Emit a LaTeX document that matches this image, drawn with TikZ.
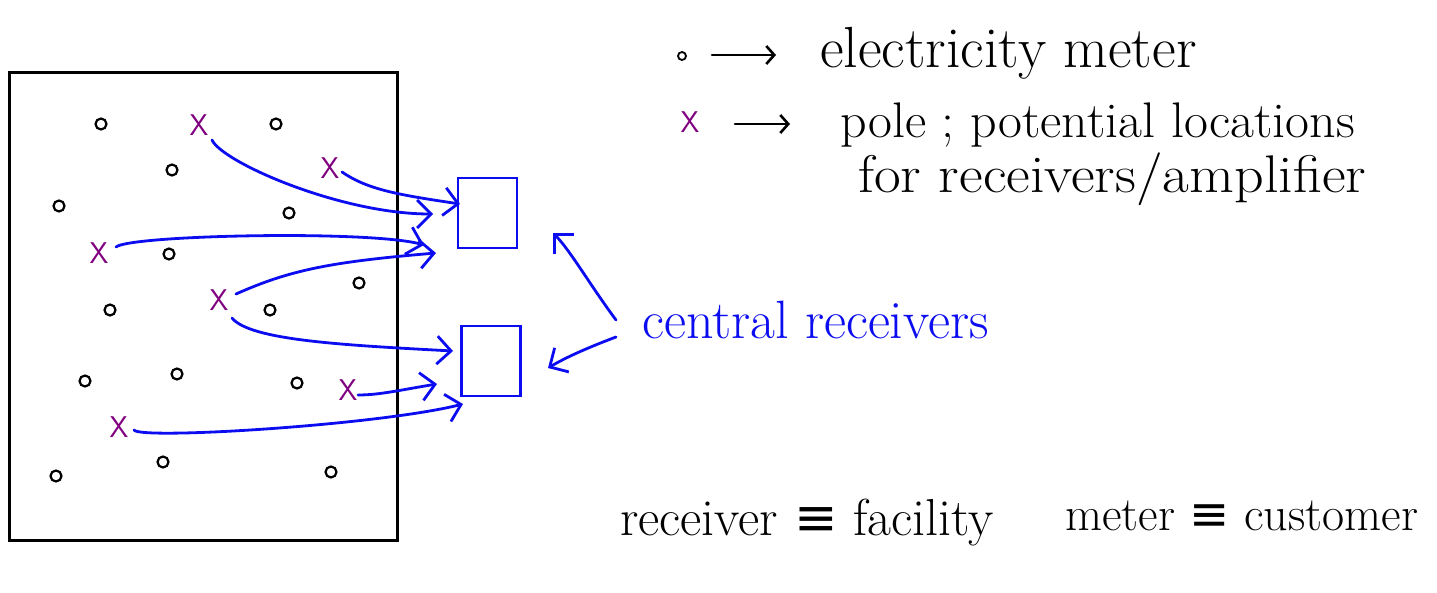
\documentclass[tikz,border=0pt]{standalone}
\usepackage{fontspec}
\usepackage{graphicx}
\usetikzlibrary{arrows.meta}
\newfontfamily\symfont{DejaVu Sans}
\newcommand\fsz[1]{\fontsize{#1}{#1}\selectfont}
\definecolor{pen}{RGB}{12,12,240}
\definecolor{pur}{RGB}{128,0,128}
\begin{document}
\begin{tikzpicture}[x=1pt,y=-1pt,
  meter/.style={circle,draw=black,line width=2.2pt,minimum size=11pt,inner sep=0pt},
  pole/.style={text=pur,font=\sffamily\fsz{30},inner sep=0pt},
  recv/.style={draw=pen,line width=2.6pt,minimum width=59pt,minimum height=70pt,inner sep=0pt},
  link/.style={draw=pen,line width=2.8pt,line cap=round,-{Straight Barb[length=14pt,width=28pt,line width=2.8pt]}},
  legarrow/.style={draw=black,line width=2.6pt,line cap=round,-{Straight Barb[length=8pt,width=18pt,line width=2.6pt]}},
  txt/.style={inner sep=0pt,anchor=base west}]
\useasboundingbox (0,0) rectangle (1437,593);
% region
\node[draw=black,line width=3pt,minimum width=388pt,minimum height=467pt,inner sep=0pt] (region) at (203,306.5) {};
% meters
\foreach \i/\x/\y in {1/101/124,2/276/124,3/172/170,4/59/206,5/289/213,6/169/254,7/359/283,8/110/310,9/270/310,10/85/381,11/177/374,12/297/383,13/56/476,14/163/462,15/331/472}
  \node[meter] (m\i) at (\x,\y) {};
% poles
\node[pole] (p1) at (199,125) {X};
\node[pole] (p2) at (330,168) {X};
\node[pole] (p3) at (99,253) {X};
\node[pole] (p4) at (219,300) {X};
\node[pole] (p5) at (348,390) {X};
\node[pole] (p6) at (119,427) {X};
% receivers
\node[recv] (r1) at (487.5,213) {};
\node[recv] (r2) at (491,361) {};
% arrow tips
\coordinate (t1) at (433,214);
\coordinate (t2) at (460,204);
\coordinate (t3) at (424,245);
\coordinate (t4) at (436,253);
\coordinate (t5) at (453,351);
\coordinate (t6) at (437,384);
\coordinate (t7) at (463,404);
\draw[link] ([shift={(13,15)}]p1.center) .. controls (222,162) and (340,214) .. (t1);
\draw[link] ([shift={(12,4)}]p2.center) .. controls (368,190) and (400,195) .. (t2);
\draw[link] ([shift={(17,-6)}]p3.center) .. controls (130,235) and (370,230) .. (t3);
\draw[link] ([shift={(17,-6)}]p4.center) .. controls (290,270) and (330,262) .. (t4);
\draw[link] ([shift={(13,18)}]p4.center) .. controls (250,340) and (340,345) .. (t5);
\draw[link] ([shift={(10,5)}]p5.center) .. controls (380,395) and (400,390) .. (t6);
\draw[link] ([shift={(15,3)}]p6.center) .. controls (140,440) and (380,425) .. (t7);
% central receivers label
\node[txt,text=pen] (cr) at (642,338) {\fsz{54}central receivers};
\coordinate (c1) at (616,320);
\coordinate (c2) at (616,337);
\coordinate (ca) at (553,233);
\coordinate (cb) at (548,368);
\draw[link] (c1) .. controls (590,285) and (570,250) .. (ca);
\draw[link] (c2) .. controls (595,345) and (570,355) .. (cb);
% legend
\node[meter,minimum size=8pt,line width=1.8pt] (lm) at (682,56) {};
\node[pole] (lp) at (690,122) {X};
\coordinate (la1) at (712,55);
\coordinate (lb1) at (776,55);
\coordinate (la2) at (735,124);
\coordinate (lb2) at (790,124);
\draw[legarrow] (la1) -- (lb1);
\draw[legarrow] (la2) -- (lb2);
\node[txt] (l1) at (820,68) {\fsz{58}electricity meter};
\node[txt] (l2) at (840,138) {\scalebox{1.04}[1]{\fsz{50}pole ; potential locations}};
\node[txt] (l3) at (858,193) {\scalebox{1.095}[1]{\fsz{53}for receivers/amplifier}};
% equivalences
\node[txt] (e1) at (620,535) {\fsz{52}receiver {\symfont ≡} facility};
\node[txt] (e2) at (1065,530) {\fsz{48}meter {\symfont ≡} customer};
\end{tikzpicture}
\end{document}
